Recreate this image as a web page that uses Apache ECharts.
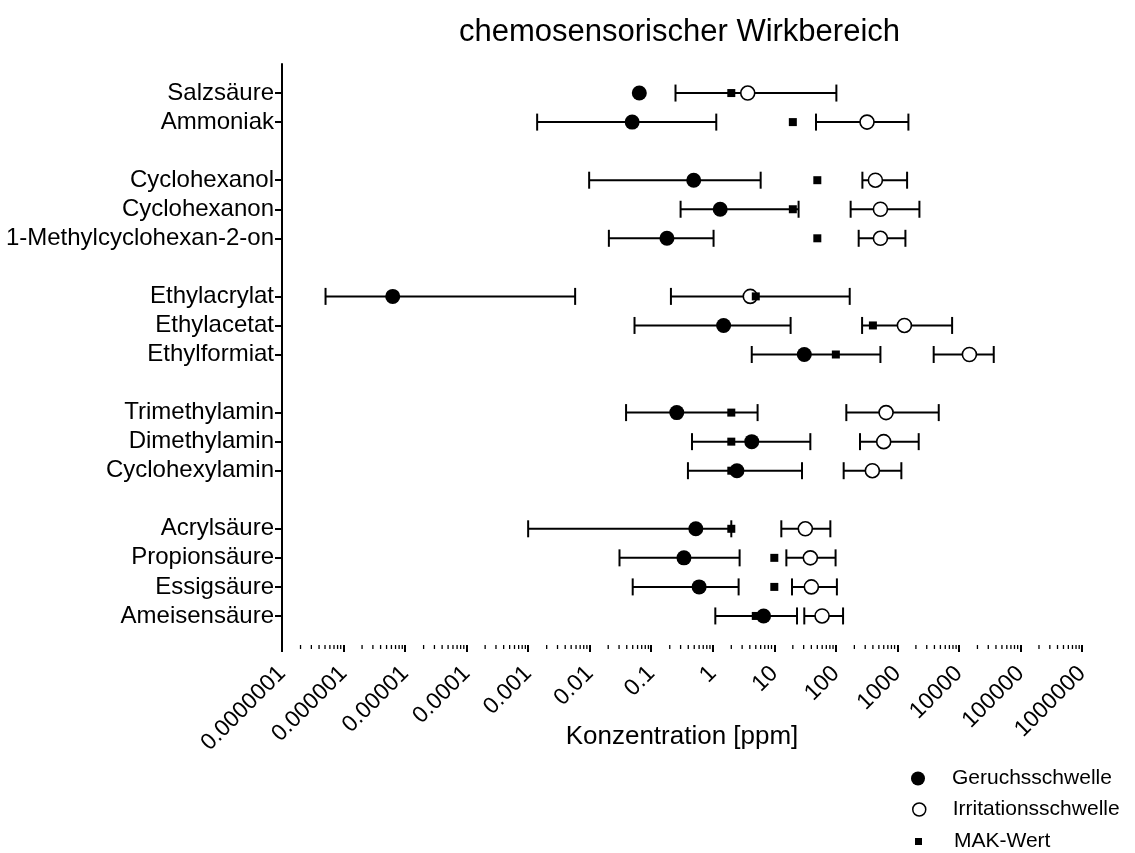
<!DOCTYPE html>
<html>
<head>
<meta charset="utf-8">
<script src="https://cdn.jsdelivr.net/npm/echarts@6/dist/echarts.min.js"></script>
<style>
html,body{margin:0;padding:0;background:#fff;}
#chart{width:1135px;height:853px;}
</style>
</head>
<body>
<div id="chart"></div>
<script>
// Rows of the y axis (blank strings are the gaps between groups)
var categories = ['', 'Salzsäure', 'Ammoniak', ' ', 'Cyclohexanol', 'Cyclohexanon', '1-Methylcyclohexan-2-on', '  ',
  'Ethylacrylat', 'Ethylacetat', 'Ethylformiat', '   ', 'Trimethylamin', 'Dimethylamin', 'Cyclohexylamin', '    ',
  'Acrylsäure', 'Propionsäure', 'Essigsäure', 'Ameisensäure', '     '];

var substances = ['Salzsäure', 'Ammoniak', 'Cyclohexanol', 'Cyclohexanon', '1-Methylcyclohexan-2-on',
  'Ethylacrylat', 'Ethylacetat', 'Ethylformiat', 'Trimethylamin', 'Dimethylamin', 'Cyclohexylamin',
  'Acrylsäure', 'Propionsäure', 'Essigsäure', 'Ameisensäure'];

// Geruchsschwelle (odour threshold) and its range
var geruch    = [0.064, 0.049, 0.49, 1.32, 0.18, 0.0000063, 1.5, 30.7, 0.26, 4.3, 2.47, 0.53, 0.34, 0.60, 6.7];
var geruchMin = [null, 0.0014, 0.0098, 0.30, 0.0205, 0.00000051, 0.0535, 4.3, 0.039, 0.46, 0.395, 0.001, 0.0305, 0.050, 1.1];
var geruchMax = [null, 1.14, 6.0, 24.8, 1.03, 0.0058, 18.4, 530, 5.35, 38.5, 28.2, 2.0, 2.73, 2.63, 23.4];

// Irritationsschwelle (irritation threshold) and its range
var irritation = [3.7, 321, 439, 530, 530, 4.07, 1300, 14800, 655, 599, 392, 31.9, 38.5, 40, 59.7];
var irrMin     = [0.248, 47.6, 270, 174, 235, 0.209, 267, 3890, 148, 247, 134, 13, 15.7, 19.4, 30.7];
var irrMax     = [102, 1510, 1438, 2280, 1350, 168, 7750, 36800, 4700, 2220, 1160, 81.4, 99, 104, 131];

// MAK-Wert
var mak = [2, 20, 50, 20, 50, 5, 400, 100, 2, 2, 2, 2, 10, 10, 5];

// x axis tick labels (decades 1e-7 ... 1e6)
var tickLabels = ['0.0000001', '0.000001', '0.00001', '0.0001', '0.001', '0.01', '0.1',
  '1', '10', '100', '1000', '10000', '100000', '1000000'];
var minorMultipliers = [2, 3, 4, 5, 6, 7, 8, 9];

var FONT = 'Liberation Sans';

function rowOf(i) { return categories.indexOf(substances[i]); }

var geruchData = [], irrData = [], makData = [], rangeData = [];
for (var i = 0; i < substances.length; i++) {
  var r = rowOf(i);
  geruchData.push([geruch[i], r]);
  irrData.push([irritation[i], r]);
  makData.push([mak[i], r]);
  if (geruchMin[i] != null) rangeData.push([r, geruchMin[i], geruchMax[i]]);
  rangeData.push([r, irrMin[i], irrMax[i]]);
}

// minor tick positions along the log axis
var minorTicks = [];
for (var d = 0; d < tickLabels.length - 1; d++) {
  var base = Number(tickLabels[d]);
  for (var m = 0; m < minorMultipliers.length; m++) minorTicks.push([base * minorMultipliers[m]]);
}

var chart = echarts.init(document.getElementById('chart'), null, {renderer: 'canvas'});

var option = {
  backgroundColor: '#fff',
  animation: false,
  title: {
    text: 'chemosensorischer Wirkbereich',
    left: 454, top: 12,
    textStyle: {fontFamily: FONT, fontSize: 31, fontWeight: 'normal', color: '#000'}
  },
  grid: {left: 282, top: 64, width: 800, height: 581, containLabel: false},
  xAxis: {
    type: 'log', logBase: 10, min: 1e-7, max: 1e6, interval: 1,
    name: 'Konzentration [ppm]', nameLocation: 'middle', nameGap: 79, nameMoveOverlap: false,
    nameTextStyle: {fontFamily: FONT, fontSize: 26, color: '#000'},
    axisLine: {lineStyle: {color: '#000', width: 2}},
    axisTick: {show: true, length: 7, interval: 0, lineStyle: {color: '#000', width: 2}},
    splitLine: {show: false},
    axisLabel: {
      rotate: 45, margin: 25, fontFamily: FONT, fontSize: 23, color: '#000', interval: 0,
      showMinLabel: true, showMaxLabel: true,
      formatter: function (v) {
        var k = Math.round(Math.log(v) / Math.LN10) + 7;
        return tickLabels[k] || '';
      }
    }
  },
  yAxis: {
    type: 'category', data: categories, inverse: true, boundaryGap: false,
    axisLine: {lineStyle: {color: '#000', width: 2}},
    axisTick: {
      show: true, length: 7, lineStyle: {color: '#000', width: 2},
      interval: function (idx, val) { return String(val).trim() !== ''; }
    },
    axisLabel: {
      margin: 8, fontFamily: FONT, fontSize: 24, color: '#000',
      interval: 0
    },
    splitLine: {show: false}
  },
  legend: [
    {
      left: 906, top: 763, orient: 'vertical', itemWidth: 14, itemHeight: 14,
      selectedMode: false,
      textStyle: {fontFamily: FONT, fontSize: 21, color: '#000', padding: [0, 0, 0, 22]},
      data: [{name: 'Geruchsschwelle', icon: 'circle', itemStyle: {color: '#000', borderWidth: 0}}]
    },
    {
      left: 907, top: 794, orient: 'vertical', itemWidth: 13, itemHeight: 13,
      selectedMode: false,
      textStyle: {fontFamily: FONT, fontSize: 21, color: '#000', padding: [0, 0, 0, 22]},
      data: [{name: 'Irritationsschwelle', icon: 'circle', itemStyle: {color: '#fff', borderColor: '#000', borderWidth: 1.5}}]
    },
    {
      left: 910, top: 826, orient: 'vertical', itemWidth: 7, itemHeight: 7,
      selectedMode: false,
      textStyle: {fontFamily: FONT, fontSize: 21, color: '#000', padding: [0, 0, 0, 27]},
      data: [{name: 'MAK-Wert', icon: 'rect', itemStyle: {color: '#000', borderWidth: 0}}]
    }
  ],
  series: [
    {
      type: 'custom', name: 'ranges', z: 1, silent: true,
      encode: {x: [1, 2], y: 0},
      data: rangeData,
      renderItem: function (params, api) {
        var r = api.value(0);
        var a = api.coord([api.value(1), r]);
        var b = api.coord([api.value(2), r]);
        var h = 8.5;
        var st = {stroke: '#000', lineWidth: 2};
        return {
          type: 'group',
          children: [
            {type: 'line', shape: {x1: a[0], y1: a[1], x2: b[0], y2: b[1]}, style: st},
            {type: 'line', shape: {x1: a[0], y1: a[1] - h, x2: a[0], y2: a[1] + h}, style: st},
            {type: 'line', shape: {x1: b[0], y1: b[1] - h, x2: b[0], y2: b[1] + h}, style: st}
          ]
        };
      }
    },
    {
      type: 'custom', name: 'minorTicks', z: 1, silent: true, clip: false,
      encode: {x: 0},
      data: minorTicks,
      renderItem: function (params, api) {
        var p = api.coord([api.value(0), categories.length - 1]);
        return {type: 'line', shape: {x1: p[0], y1: p[1], x2: p[0], y2: p[1] + 4}, style: {stroke: '#000', lineWidth: 1.3}};
      }
    },
    {
      type: 'scatter', name: 'Irritationsschwelle', z: 2,
      symbol: 'circle', symbolSize: 14,
      itemStyle: {color: '#fff', borderColor: '#000', borderWidth: 1.6, opacity: 1},
      data: irrData
    },
    {
      type: 'scatter', name: 'MAK-Wert', z: 3,
      symbol: 'rect', symbolSize: 8,
      itemStyle: {color: '#000', opacity: 1},
      data: makData
    },
    {
      type: 'scatter', name: 'Geruchsschwelle', z: 4,
      symbol: 'circle', symbolSize: 15,
      itemStyle: {color: '#000', opacity: 1},
      data: geruchData
    }
  ]
};
chart.setOption(option);
</script>
</body>
</html>
